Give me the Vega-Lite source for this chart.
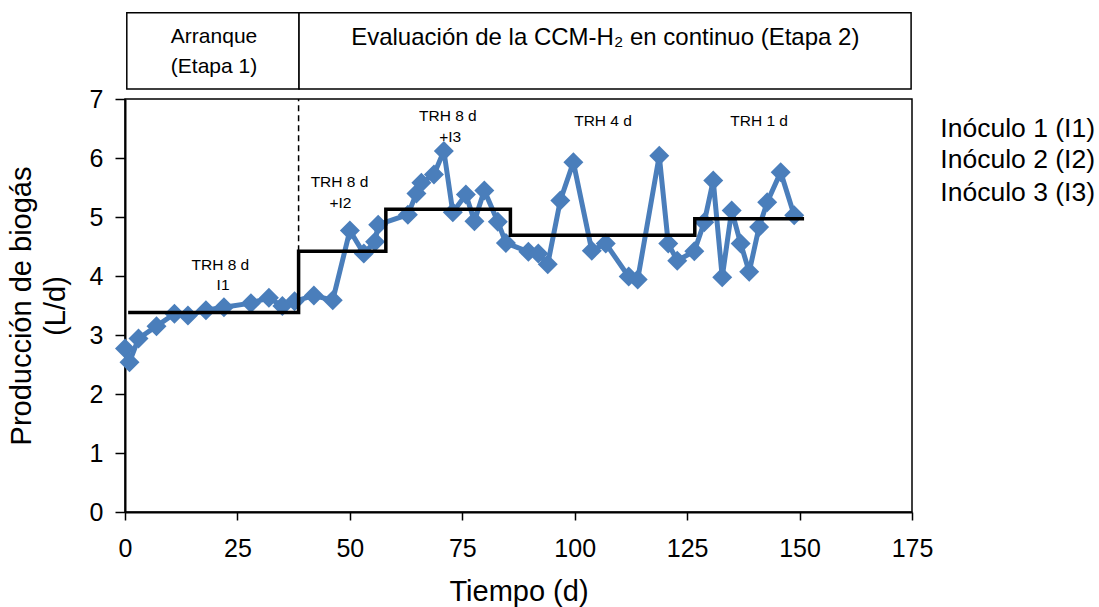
{
  "$schema": "https://vega.github.io/schema/vega-lite/v6.json",
  "width": 787,
  "height": 413,
  "autosize": {"type": "none"},
  "padding": {"left": 125, "top": 99, "right": 187, "bottom": 95},
  "background": "white",
  "config": {
    "font": "Liberation Sans",
    "view": {"stroke": "black", "strokeWidth": 1.5},
    "axis": {
      "grid": false,
      "domainColor": "black",
      "domainWidth": 2,
      "tickColor": "black",
      "tickWidth": 1.5,
      "labelColor": "black",
      "titleColor": "black",
      "labelFont": "Liberation Sans",
      "titleFont": "Liberation Sans",
      "labelFontSize": 25,
      "titleFontSize": 29,
      "titleFontWeight": "normal",
      "labelFlush": false
    }
  },
  "datasets": {
    "biogas": [
      {"t": 0, "v": 2.77}, {"t": 1, "v": 2.54}, {"t": 3, "v": 2.94}, {"t": 7, "v": 3.15},
      {"t": 11, "v": 3.36}, {"t": 14, "v": 3.33}, {"t": 18, "v": 3.42}, {"t": 22, "v": 3.47},
      {"t": 28, "v": 3.54}, {"t": 32, "v": 3.63}, {"t": 35, "v": 3.49}, {"t": 37.7, "v": 3.57},
      {"t": 42, "v": 3.67}, {"t": 46.2, "v": 3.59}, {"t": 50, "v": 4.77}, {"t": 53.1, "v": 4.38},
      {"t": 55.6, "v": 4.58}, {"t": 56.3, "v": 4.87}, {"t": 62.9, "v": 5.04}, {"t": 64.8, "v": 5.4},
      {"t": 65.9, "v": 5.58}, {"t": 68.7, "v": 5.72}, {"t": 70.9, "v": 6.12}, {"t": 72.9, "v": 5.08},
      {"t": 75.8, "v": 5.38}, {"t": 77.7, "v": 4.93}, {"t": 79.9, "v": 5.45}, {"t": 82.9, "v": 4.92},
      {"t": 84.7, "v": 4.56}, {"t": 89.7, "v": 4.41}, {"t": 91.9, "v": 4.38}, {"t": 94, "v": 4.2},
      {"t": 96.8, "v": 5.28}, {"t": 99.7, "v": 5.93}, {"t": 103.8, "v": 4.43}, {"t": 106.9, "v": 4.55},
      {"t": 112, "v": 3.99}, {"t": 114, "v": 3.94}, {"t": 118.8, "v": 6.04}, {"t": 120.8, "v": 4.55},
      {"t": 122.8, "v": 4.26}, {"t": 126.6, "v": 4.42}, {"t": 128.8, "v": 4.91}, {"t": 130.8, "v": 5.62},
      {"t": 132.8, "v": 3.98}, {"t": 134.9, "v": 5.11}, {"t": 136.9, "v": 4.55}, {"t": 138.8, "v": 4.07},
      {"t": 141, "v": 4.83}, {"t": 142.8, "v": 5.25}, {"t": 145.8, "v": 5.76}, {"t": 148.8, "v": 5.03}
    ],
    "steps": [
      {"t": 0.7, "v": 3.38}, {"t": 38.6, "v": 4.42}, {"t": 58, "v": 5.13},
      {"t": 85.7, "v": 4.69}, {"t": 126.7, "v": 4.97}, {"t": 151, "v": 4.97}
    ],
    "boxes": [
      {"x1": 0.4, "x2": 38.7, "y1": 7.17, "y2": 8.46},
      {"x1": 38.7, "x2": 174.8, "y1": 7.17, "y2": 8.46}
    ],
    "boxtext": [
      {"t": 19.8, "v": 8.05, "label": "Arranque", "size": 21},
      {"t": 19.8, "v": 7.55, "label": "(Etapa 1)", "size": 21},
      {"t": 106.8, "v": 8.03, "label": "Evaluación de la CCM-H₂ en continuo (Etapa 2)", "size": 24}
    ],
    "notes": [
      {"t": 21.2, "v": 4.18, "label": "TRH 8 d"},
      {"t": 21.8, "v": 3.84, "label": "I1"},
      {"t": 47.7, "v": 5.59, "label": "TRH 8 d"},
      {"t": 47.9, "v": 5.23, "label": "+I2"},
      {"t": 71.8, "v": 6.72, "label": "TRH 8 d"},
      {"t": 72.3, "v": 6.36, "label": "+I3"},
      {"t": 106.3, "v": 6.62, "label": "TRH 4 d"},
      {"t": 141, "v": 6.63, "label": "TRH 1 d"}
    ],
    "legend": [
      {"t": 181.3, "v": 6.5, "label": "Inóculo 1 (I1)"},
      {"t": 181.3, "v": 5.96, "label": "Inóculo 2 (I2)"},
      {"t": 181.3, "v": 5.4, "label": "Inóculo 3 (I3)"}
    ],
    "divider": [
      {"t": 38.6, "v1": 4.42, "v2": 7}
    ]
  },
  "layer": [
    {
      "data": {"name": "boxes"},
      "mark": {"type": "rect", "fill": "white", "stroke": "black", "strokeWidth": 1.5},
      "encoding": {
        "x": {"field": "x1", "type": "quantitative", "scale": {"domain": [0, 175], "nice": false, "zero": false},
          "axis": {"values": [0, 25, 50, 75, 100, 125, 150, 175], "format": "d", "tickSize": 8, "labelPadding": 16, "title": "Tiempo (d)", "titlePadding": 16}},
        "x2": {"field": "x2"},
        "y": {"field": "y1", "type": "quantitative", "scale": {"domain": [0, 7], "nice": false, "zero": false},
          "axis": {"values": [0, 1, 2, 3, 4, 5, 6, 7], "format": "d", "tickSize": 10, "labelPadding": 12, "title": ["Producción de biogás", "(L/d)"], "titleLineHeight": 34, "titlePadding": 19}},
        "y2": {"field": "y2"}
      }
    },
    {
      "data": {"name": "boxtext"},
      "mark": {"type": "text", "color": "black", "font": "Liberation Sans", "align": "center", "baseline": "middle"},
      "encoding": {
        "x": {"field": "t", "type": "quantitative"},
        "y": {"field": "v", "type": "quantitative"},
        "text": {"field": "label"},
        "size": {"field": "size", "type": "quantitative", "scale": null}
      }
    },
    {
      "data": {"name": "divider"},
      "mark": {"type": "rule", "color": "black", "strokeWidth": 1.5, "strokeDash": [6, 4]},
      "encoding": {
        "x": {"field": "t", "type": "quantitative"},
        "y": {"field": "v1", "type": "quantitative"},
        "y2": {"field": "v2"}
      }
    },
    {
      "data": {"name": "biogas"},
      "mark": {"type": "line", "color": "#4A7EBB", "strokeWidth": 5,
        "point": {"shape": "diamond", "size": 400, "filled": true, "color": "#4A7EBB", "opacity": 1}},
      "encoding": {
        "x": {"field": "t", "type": "quantitative"},
        "y": {"field": "v", "type": "quantitative"}
      }
    },
    {
      "data": {"name": "steps"},
      "mark": {"type": "line", "color": "black", "strokeWidth": 3.5, "interpolate": "step-after"},
      "encoding": {
        "x": {"field": "t", "type": "quantitative"},
        "y": {"field": "v", "type": "quantitative"}
      }
    },
    {
      "data": {"name": "notes"},
      "mark": {"type": "text", "color": "black", "font": "Liberation Sans", "fontSize": 15.5, "align": "center", "baseline": "middle"},
      "encoding": {
        "x": {"field": "t", "type": "quantitative"},
        "y": {"field": "v", "type": "quantitative"},
        "text": {"field": "label"}
      }
    },
    {
      "data": {"name": "legend"},
      "mark": {"type": "text", "color": "black", "font": "Liberation Sans", "fontSize": 26.5, "align": "left", "baseline": "middle"},
      "encoding": {
        "x": {"field": "t", "type": "quantitative"},
        "y": {"field": "v", "type": "quantitative"},
        "text": {"field": "label"}
      }
    }
  ]
}
